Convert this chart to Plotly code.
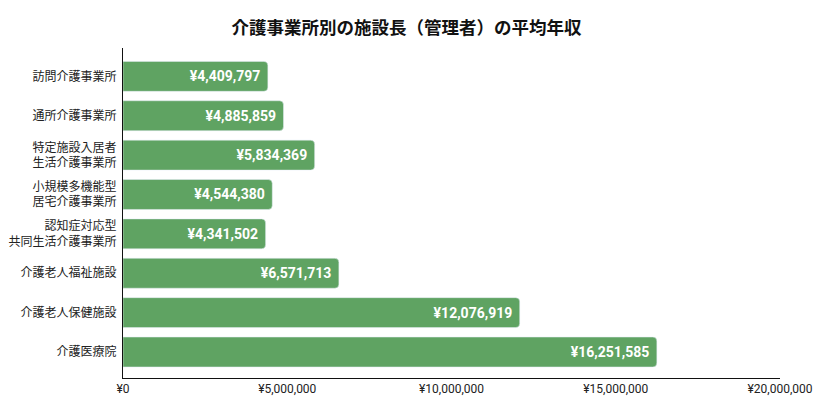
import plotly.graph_objects as go

# 施設種別ごとの施設長(管理者)の平均年収
categories = [
    "訪問介護事業所",
    "通所介護事業所",
    "特定施設入居者<br>生活介護事業所",
    "小規模多機能型<br>居宅介護事業所",
    "認知症対応型<br>共同生活介護事業所",
    "介護老人福祉施設",
    "介護老人保健施設",
    "介護医療院",
]
salaries = [4409797, 4885859, 5834369, 4544380, 4341502, 6571713, 12076919, 16251585]

tick_vals = [0, 5000000, 10000000, 15000000, 20000000]
tick_text = ["¥0", "¥5,000,000", "¥10,000,000", "¥15,000,000", "¥20,000,000"]

font_family = "Roboto, 'Noto Sans CJK JP', sans-serif"

fig = go.Figure(go.Bar(
    x=salaries,
    y=categories,
    orientation="h",
    marker=dict(color="#5fa362"),
    text=[f"¥{v:,}\u00a0" for v in salaries],
    textposition="inside",
    insidetextanchor="end",
    textfont=dict(color="white", size=14, family="Roboto, sans-serif", weight="bold"),
    cliponaxis=False,
))

fig.update_layout(
    width=813,
    height=410,
    margin=dict(l=123, r=33, t=48, b=32),
    paper_bgcolor="white",
    plot_bgcolor="white",
    bargap=0.24,
    barcornerradius=4,
    showlegend=False,
    font=dict(family=font_family, color="#222222"),
    title=dict(
        text="<b>介護事業所別の施設長（管理者）の平均年収</b>",
        x=0.5, xanchor="center", y=0.932, yanchor="middle",
        font=dict(size=17.5, color="#111111"),
    ),
)

fig.update_xaxes(
    range=[0, 20000000],
    tickvals=tick_vals,
    ticktext=tick_text,
    showgrid=False,
    zeroline=False,
    showline=True,
    linecolor="#111111",
    linewidth=1,
    ticks="",
    automargin=False,
    tickfont=dict(size=12, color="#222222"),
)
fig.update_yaxes(
    range=[7.66, -0.72],
    showgrid=False,
    showline=True,
    linecolor="#111111",
    linewidth=1,
    ticks="",
    ticklabelstandoff=3,
    automargin=False,
    tickfont=dict(size=12, color="#222222"),
)

# the page's default body margin would shift the chart by 8px
fig.write_html(
    "out.html",
    config={"displayModeBar": False},
    post_script="document.body.style.margin='0';",
)
